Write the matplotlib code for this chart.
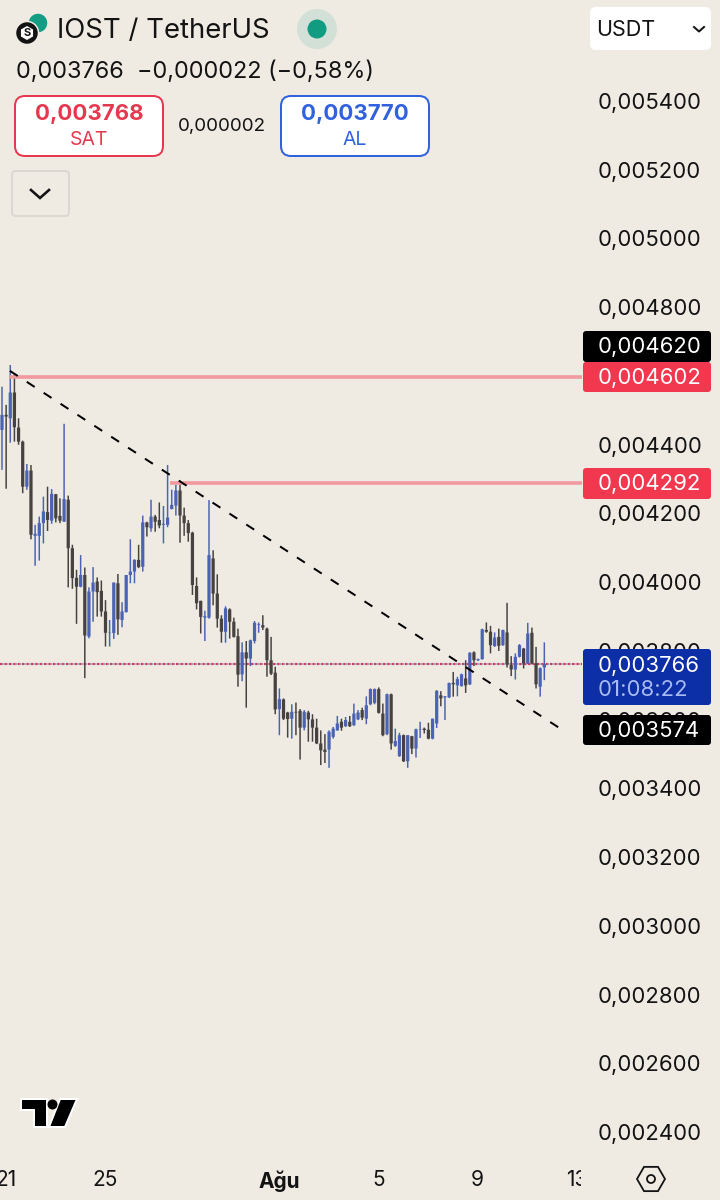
import numpy as np
import matplotlib
matplotlib.use("Agg")
import matplotlib.pyplot as plt
from matplotlib.patches import Circle, FancyBboxPatch, Polygon, Rectangle, RegularPolygon
from matplotlib.ticker import FuncFormatter
from matplotlib.transforms import ScaledTranslation

plt.rcParams['font.family'] = ['Inter', 'DejaVu Sans']

# 4h candles, prices in millionths of USDT
opens = [4447, 4491, 4481, 4556, 4454, 4413, 4282, 4329, 4139, 4139, 4176, 4208, 4183, 4260, 4197, 4180,
         4244, 4103, 4017, 3991, 4025, 3846, 3977, 4006, 3979, 3919, 3856, 3856, 4001, 3894, 3917, 4025,
         4035, 4069, 4049, 4178, 4161, 4195, 4185, 4171, 4171, 4217, 4227, 4271, 4198, 4176, 4148, 3993,
         3950, 3901, 3901, 4073, 3971, 3898, 3860, 3925, 3889, 3847, 3736, 3800, 3782, 3833, 3880, 3879,
         3869, 3777, 3741, 3635, 3663, 3625, 3607, 3627, 3630, 3581, 3625, 3605, 3581, 3535, 3517, 3517,
         3554, 3573, 3598, 3585, 3598, 3588, 3605, 3632, 3607, 3649, 3653, 3693, 3622, 3562, 3678, 3528,
         3498, 3559, 3483, 3556, 3520, 3574, 3578, 3575, 3549, 3593, 3675, 3669, 3669, 3711, 3704, 3702,
         3724, 3707, 3800, 3777, 3780, 3865, 3860, 3818, 3845, 3821, 3858, 3763, 3750, 3787, 3811, 3768,
         3857, 3768, 3700, 3756]
highs = [4573, 4520, 4636, 4612, 4481, 4416, 4348, 4345, 4171, 4195, 4253, 4282, 4275, 4261, 4248, 4465,
         4256, 4113, 4040, 4083, 4047, 3989, 4048, 4018, 4009, 3952, 3894, 4003, 4028, 3946, 4025, 4129,
         4071, 4113, 4198, 4180, 4244, 4200, 4236, 4226, 4345, 4273, 4287, 4300, 4221, 4185, 4151, 4018,
         3950, 3921, 4243, 4097, 4027, 3908, 3934, 3928, 3901, 3869, 3829, 3833, 3837, 3891, 3887, 3908,
         3872, 3845, 3758, 3695, 3666, 3627, 3649, 3654, 3635, 3632, 3630, 3620, 3607, 3573, 3562, 3573,
         3583, 3615, 3607, 3612, 3615, 3651, 3632, 3639, 3672, 3695, 3695, 3698, 3651, 3680, 3680, 3578,
         3566, 3561, 3559, 3557, 3578, 3598, 3581, 3595, 3607, 3690, 3687, 3673, 3712, 3743, 3729, 3738,
         3777, 3800, 3803, 3782, 3869, 3887, 3877, 3858, 3869, 3866, 3944, 3789, 3797, 3824, 3813, 3886,
         3872, 3816, 3756, 3829]
lows = [4331, 4276, 4410, 4413, 4404, 4263, 4273, 4129, 4052, 4067, 4117, 4153, 4174, 4178, 4176, 4180,
        3989, 3985, 3883, 3989, 3725, 3841, 3889, 3904, 3904, 3817, 3817, 3839, 3851, 3873, 3916, 4001,
        4001, 4045, 4035, 4137, 4151, 4151, 4161, 4117, 4164, 4216, 4198, 4119, 4139, 4122, 3967, 3925,
        3855, 3833, 3898, 3937, 3872, 3828, 3828, 3840, 3843, 3700, 3716, 3639, 3760, 3826, 3857, 3865,
        3729, 3734, 3620, 3559, 3603, 3552, 3549, 3559, 3488, 3573, 3540, 3540, 3533, 3472, 3478, 3464,
        3549, 3572, 3572, 3583, 3583, 3586, 3603, 3603, 3591, 3646, 3649, 3622, 3556, 3559, 3517, 3525,
        3496, 3481, 3464, 3504, 3494, 3551, 3564, 3547, 3547, 3580, 3643, 3603, 3667, 3671, 3672, 3700,
        3682, 3705, 3760, 3775, 3779, 3857, 3797, 3816, 3804, 3819, 3756, 3731, 3721, 3785, 3753, 3766,
        3766, 3695, 3671, 3719]
closes = [4491, 4486, 4556, 4455, 4413, 4282, 4329, 4142, 4145, 4176, 4210, 4185, 4261, 4190, 4183, 4246,
          4103, 4016, 3991, 4025, 3849, 3977, 4003, 3975, 3919, 3857, 3857, 4003, 3896, 3919, 4025, 4035,
          4069, 4048, 4178, 4164, 4195, 4180, 4169, 4174, 4192, 4229, 4271, 4198, 4176, 4147, 3996, 3943,
          3903, 3905, 4083, 3971, 3898, 3860, 3928, 3889, 3845, 3735, 3800, 3782, 3835, 3886, 3882, 3872,
          3777, 3738, 3634, 3664, 3607, 3606, 3627, 3625, 3581, 3627, 3605, 3581, 3535, 3515, 3510, 3569,
          3578, 3593, 3581, 3603, 3585, 3622, 3625, 3610, 3646, 3693, 3693, 3624, 3559, 3678, 3535, 3542,
          3559, 3483, 3559, 3520, 3576, 3575, 3574, 3549, 3607, 3688, 3666, 3672, 3711, 3707, 3722, 3736,
          3704, 3799, 3777, 3780, 3867, 3860, 3821, 3843, 3819, 3865, 3765, 3750, 3787, 3821, 3768, 3855,
          3768, 3707, 3754, 3766]

price_ticks = [2400, 2600, 2800, 3000, 3200, 3400, 3600, 3800, 4000, 4200, 4400, 4600, 4800, 5000, 5200, 5400]
time_ticks = [0.9, 24.9, 66.9, 90.9, 114.9, 138.9]
time_labels = ['21', '25', 'Ağu', '5', '9', '13']

last_price = 3766
level_prices = [4602, 4292]
level_starts = [1.9, 40.6]
trend_x = [1.9, 134.5]
trend_y = [4619, 3581]

BG = '#EFEBE3'
UP = '#4A63B4'
DOWN = '#45423F'
PINK = '#F2989F'
RED = '#F1384F'
NAVY = '#0C2EA6'
INK = '#131313'
px = 72 / 100  # one pixel in points

fig = plt.figure(figsize=(7.2, 12), dpi=100, facecolor=BG)
ax = fig.add_axes([0, 40 / 1200, 582 / 720, 1160 / 1200], facecolor=BG)

xs = np.arange(len(opens))
o, h, l, c = [np.array(a) * 1e-6 for a in (opens, highs, lows, closes)]
colors = [UP if b >= a else DOWN for a, b in zip(o, c)]

# dotted last price line sits under the candles
ax.axhline(last_price * 1e-6, color='#8F8CC4', lw=1.6 * px, ls=(1.4, (1, 1.75)), zorder=1)
ax.axhline(last_price * 1e-6, color='#C8405F', lw=2.2 * px, ls=(0, (1, 1)), zorder=1.1)

# snapping off, otherwise the bodies round to uneven whole pixels
ax.vlines(xs, l, h, colors=colors, lw=1.5 * px, zorder=2, snap=False)
ax.bar(xs, np.abs(c - o), bottom=np.minimum(o, c), width=0.78, color=colors, zorder=2, snap=False)

for p, start in zip(level_prices, level_starts):
    ax.plot([start, 141], [p * 1e-6, p * 1e-6], color=PINK, lw=3.6 * px, solid_capstyle='butt', zorder=3)
ax.plot(trend_x, np.array(trend_y) * 1e-6, color='black', lw=2 * px, dashes=(4.7, 5.37),
        dash_capstyle='butt', zorder=4)

ax.set_xlim(-0.483, 140.1)
ax.set_ylim(2323e-6, 5698e-6)
for side in ax.spines.values():
    side.set_visible(False)
ax.yaxis.tick_right()
ax.set_yticks(np.array(price_ticks) * 1e-6)
ax.yaxis.set_major_formatter(FuncFormatter(lambda v, _: f'{v:.6f}'.replace('.', ',')))
ax.tick_params(axis='y', length=0, pad=16 * px, labelsize=15.9, labelcolor=INK)
ax.set_xticks(time_ticks, time_labels)
ax.tick_params(axis='x', length=0, pad=10 * px, labelsize=15, labelcolor=INK)
ax.get_xticklabels()[2].set_fontweight('bold')
# scale labels sit a little above their price in the app
lift = ScaledTranslation(0, 1.5 / 100, fig.dpi_scale_trans)
for label in ax.get_yticklabels():
    label.set_transform(label.get_transform() + lift)

# interface drawn on top, in screen pixels
ui = fig.add_axes([0, 0, 1, 1], facecolor='none')
ui.set_xlim(0, 720)
ui.set_ylim(1200, 0)
ui.axis('off')


def box(x0, y0, x1, y1, color, edge='none', lw=0, r=3):
    ui.add_patch(FancyBboxPatch((x0, y0), x1 - x0, y1 - y0, boxstyle=f'round,pad=0,rounding_size={r}',
                                fc=color, ec=edge, lw=lw * px))


# hides the part of the last date label that runs into the price scale
ui.add_patch(Rectangle((581, 1160), 139, 40, fc=BG, ec='none'))

# price tags on the scale
box(583, 331, 711, 362, 'black')
box(583, 362, 711, 392, RED)
box(583, 468, 711, 499, RED)
box(583, 649, 711, 705, NAVY)
box(583, 715, 711, 745, 'black')
tags = [(346, '0,004620', 'white'), (377, '0,004602', 'white'), (483, '0,004292', 'white'),
        (665, '0,003766', 'white'), (689, '01:08:22', '#A7BBF2'), (730, '0,003574', 'white')]
for y, s, col in tags:
    ui.text(598, y + 1, s, color=col, fontsize=15.9, va='center', ha='left')

# header
ui.add_patch(Circle((38, 23), 10, fc='#149C85', ec=BG, lw=1.5 * px))
ui.add_patch(Circle((27, 33), 11.5, fc=INK, ec=BG, lw=1.5 * px))
ui.add_patch(RegularPolygon((27, 33), 6, radius=7, fc='white', ec='none'))
ui.text(27, 33.5, 'S', color=INK, fontsize=8, fontweight='bold', ha='center', va='center')
ui.text(57, 31, 'IOST / TetherUS', color=INK, fontsize=19.8, va='center', ha='left')
ui.add_patch(Circle((317, 29), 20, fc='#D2E0D8', ec='none'))
ui.add_patch(Circle((317, 29), 9.5, fc='#119C82', ec='none'))
ui.text(16, 72, '0,003766  −0,000022 (−0,58%)', color=INK, fontsize=16.9, va='center', ha='left')

box(15, 96, 163, 156, 'white', edge='#E5394F', lw=2, r=10)
ui.text(89, 114, '0,003768', color='#E5394F', fontsize=16, fontweight='bold', ha='center', va='center')
ui.text(89, 140, 'SAT', color='#E5394F', fontsize=14, ha='center', va='center')
ui.text(222, 126, '0,000002', color=INK, fontsize=13.5, ha='center', va='center')
box(281, 96, 429, 156, 'white', edge='#2F62DC', lw=2, r=10)
ui.text(355, 114, '0,003770', color='#2F62DC', fontsize=16, fontweight='bold', ha='center', va='center')
ui.text(355, 140, 'AL', color='#2F62DC', fontsize=14, ha='center', va='center')

box(12, 171, 69, 216, BG, edge='#DCD7D0', lw=2, r=4)
ui.plot([31, 40, 49], [190, 198, 190], color=INK, lw=2.6 * px, solid_joinstyle='miter')

box(590, 7, 711, 50, 'white', r=6)
ui.text(596, 30.5, 'USDT', color=INK, fontsize=15.5, va='center', ha='left')
ui.plot([694, 699, 704], [27, 31.5, 27], color=INK, lw=2 * px)

# logo and settings icon at the bottom
ui.add_patch(Polygon([(21, 1099), (47, 1099), (47, 1127), (34, 1127), (34, 1110), (21, 1110)],
                     fc='black', ec='white', lw=2 * px))
ui.add_patch(Polygon([(60, 1099), (77, 1099), (65, 1127), (49, 1127)], fc='black', ec='white', lw=2 * px))
ui.add_patch(Circle((52.5, 1104.5), 5, fc='black', ec='none'))
ui.add_patch(RegularPolygon((651, 1179), 6, radius=14, orientation=np.pi / 2, fc='none', ec=INK, lw=1.8 * px))
ui.add_patch(Circle((651, 1179), 4, fc='none', ec=INK, lw=1.8 * px))

fig.savefig('out.png', dpi=100, facecolor=BG)
